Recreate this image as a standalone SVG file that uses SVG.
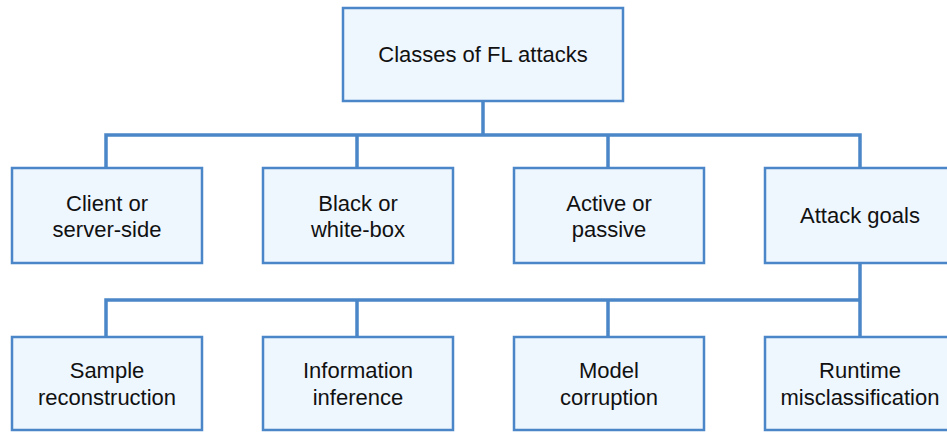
<svg xmlns="http://www.w3.org/2000/svg" width="947" height="432" viewBox="0 0 947 432">
<style>
.box{fill:#eef6fe;stroke:#4a86c8;stroke-width:2.5}
.t{font-family:"Liberation Sans",Arial,sans-serif;font-size:22px;fill:#111;text-anchor:middle}
.c{fill:none;stroke:#4a86c8;stroke-width:3.5;stroke-linejoin:miter;stroke-linecap:butt}
</style>
<rect width="947" height="432" fill="#fff"/>
<g id="connectors">
<path class="c" d="M483,101V135M106,168V135H860V168M357,135V168M608,135V168"/>
<path class="c" d="M860,263V300M106,337V300H860V337M357,300V337M608,300V337"/>
</g>
<g id="root"><rect class="box" x="343" y="8" width="280" height="93"/><text class="t" x="483" y="62">Classes of FL attacks</text></g>
<g id="client"><rect class="box" x="12" y="168" width="190" height="95"/><text class="t" x="107" y="211">Client or</text><text class="t" x="107" y="237">server-side</text></g>
<g id="blackwhite"><rect class="box" x="263" y="168" width="190" height="95"/><text class="t" x="358" y="211">Black or</text><text class="t" x="358" y="237">white-box</text></g>
<g id="activepassive"><rect class="box" x="514" y="168" width="190" height="95"/><text class="t" x="609" y="211">Active or</text><text class="t" x="609" y="237">passive</text></g>
<g id="goals"><rect class="box" x="765" y="168" width="190" height="95"/><text class="t" x="860" y="223">Attack goals</text></g>
<g id="sample"><rect class="box" x="12" y="337" width="190" height="93"/><text class="t" x="107" y="378">Sample</text><text class="t" x="107" y="405">reconstruction</text></g>
<g id="info"><rect class="box" x="263" y="337" width="190" height="93"/><text class="t" x="358" y="378">Information</text><text class="t" x="358" y="405">inference</text></g>
<g id="model"><rect class="box" x="514" y="337" width="190" height="93"/><text class="t" x="609" y="378">Model</text><text class="t" x="609" y="405">corruption</text></g>
<g id="runtime"><rect class="box" x="765" y="337" width="190" height="93"/><text class="t" x="860" y="378">Runtime</text><text class="t" x="860" y="405">misclassification</text></g>
</svg>
